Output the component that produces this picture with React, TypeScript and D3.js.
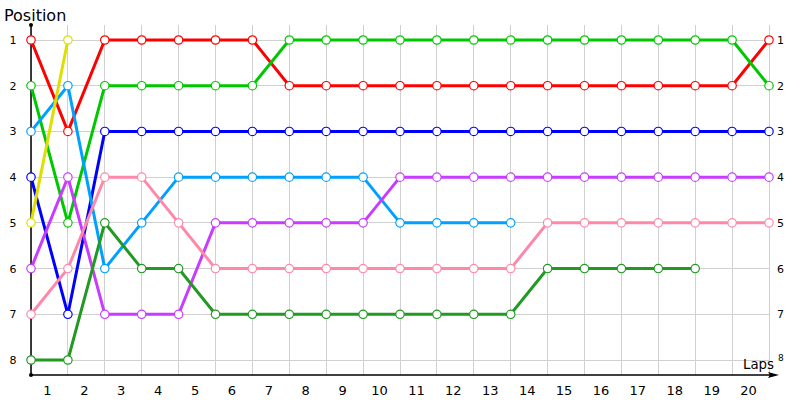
import React from "react";
import * as d3 from "d3";

const laps = d3.range(0, 21);
const lapLabels = d3.range(1, 21).map(String);
const positions = [1, 2, 3, 4, 5, 6, 7, 8];

const redSeries = [1, 3, 1, 1, 1, 1, 1, 2, 2, 2, 2, 2, 2, 2, 2, 2, 2, 2, 2, 2, 1];
const greenSeries = [2, 5, 2, 2, 2, 2, 2, 1, 1, 1, 1, 1, 1, 1, 1, 1, 1, 1, 1, 1, 2];
const blueSeries = [4, 7, 3, 3, 3, 3, 3, 3, 3, 3, 3, 3, 3, 3, 3, 3, 3, 3, 3, 3, 3];
const lightBlueSeries = [3, 2, 6, 5, 4, 4, 4, 4, 4, 4, 5, 5, 5, 5];
const yellowSeries = [5, 1];
const purpleSeries = [6, 4, 7, 7, 7, 5, 5, 5, 5, 5, 4, 4, 4, 4, 4, 4, 4, 4, 4, 4, 4];
const pinkSeries = [7, 6, 4, 4, 5, 6, 6, 6, 6, 6, 6, 6, 6, 6, 5, 5, 5, 5, 5, 5, 5];
const darkGreenSeries = [8, 8, 5, 6, 6, 7, 7, 7, 7, 7, 7, 7, 7, 7, 6, 6, 6, 6, 6];

const series = [
  { name: "red", color: "#ff0000", values: redSeries },
  { name: "green", color: "#00c800", values: greenSeries },
  { name: "blue", color: "#0000ff", values: blueSeries },
  { name: "lightblue", color: "#00a0ff", values: lightBlueSeries },
  { name: "yellow", color: "#dede00", values: yellowSeries },
  { name: "purple", color: "#c83cff", values: purpleSeries },
  { name: "pink", color: "#ff88aa", values: pinkSeries },
  { name: "darkgreen", color: "#229922", values: darkGreenSeries },
];

export default function App() {
  const W = 800, H = 400;
  const x = d3.scaleLinear().domain([0, 20]).range([31, 769]);
  const y = d3.scaleLinear().domain([1, 8]).range([40, 360]);
  const axisY = 375;
  const font = "DejaVu Sans, Verdana, sans-serif";
  const line = d3
    .line<number>()
    .x((_, i) => x(i))
    .y((d) => y(d));

  return (
    <svg
      width={W}
      height={H}
      style={{ position: "absolute", left: 0, top: 0, background: "#fff" }}
    >
      {/* grid */}
      {laps.map((l) => (
        <line key={"gx" + l} x1={x(l)} x2={x(l)} y1={25} y2={axisY} stroke="#d0d0d0" strokeWidth={1} shapeRendering="crispEdges" />
      ))}
      {positions.map((p) => (
        <line key={"gy" + p} x1={x(0)} x2={x(20)} y1={y(p)} y2={y(p)} stroke="#d0d0d0" strokeWidth={1} shapeRendering="crispEdges" />
      ))}
      {/* axes */}
      <line x1={x(0)} x2={x(0)} y1={axisY} y2={25} stroke="#000" strokeWidth={1.5} />
      <circle cx={x(0)} cy={25} r={2} fill="#000" />
      <circle cx={x(0)} cy={axisY} r={2} fill="#000" />
      <line x1={x(0)} x2={772} y1={axisY} y2={axisY} stroke="#000" strokeWidth={1.5} />
      <path d={`M${779},${axisY} L${768},${axisY - 3} L${770},${axisY} L${768},${axisY + 3} Z`} fill="#000" />

      {/* labels */}
      <text x={4} y={21} fontFamily={font} fontSize={16} fill="#000">Position</text>
      <text x={743} y={369} fontFamily={font} fontSize={14.5} textLength={31} lengthAdjust="spacingAndGlyphs" fill="#000">Laps</text>
      {positions.map((p) => (
        <text key={"ly" + p} x={13} y={y(p) + 4} textAnchor="middle" fontFamily={font} fontSize={11} fill="#000">{p}</text>
      ))}
      {positions.map((p) => (
        <text key={"ry" + p} x={p === 8 ? 778 : 777} y={p === 8 ? y(p) + 1 : y(p) + 4} fontFamily={font} fontSize={p === 8 ? 9 : 11} fill="#000">{p}</text>
      ))}
      {lapLabels.map((lab, i) => (
        <text key={"lx" + lab} x={(x(i) + x(i + 1)) / 2 - 2} y={395} textAnchor="middle" fontFamily={font} fontSize={13} fill="#000">{lab}</text>
      ))}

      {/* series lines */}
      {series.map((s) => (
        <path key={"l" + s.name} d={line(s.values) || ""} fill="none" stroke={s.color} strokeWidth={3} />
      ))}
      {series.map((s) => (
        <g key={"m" + s.name}>
          {s.values.map((v, i) => (
            <circle key={i} cx={x(i)} cy={y(v)} r={4.2} fill="#fff" stroke={s.color} strokeWidth={1.2} />
          ))}
        </g>
      ))}
    </svg>
  );
}
